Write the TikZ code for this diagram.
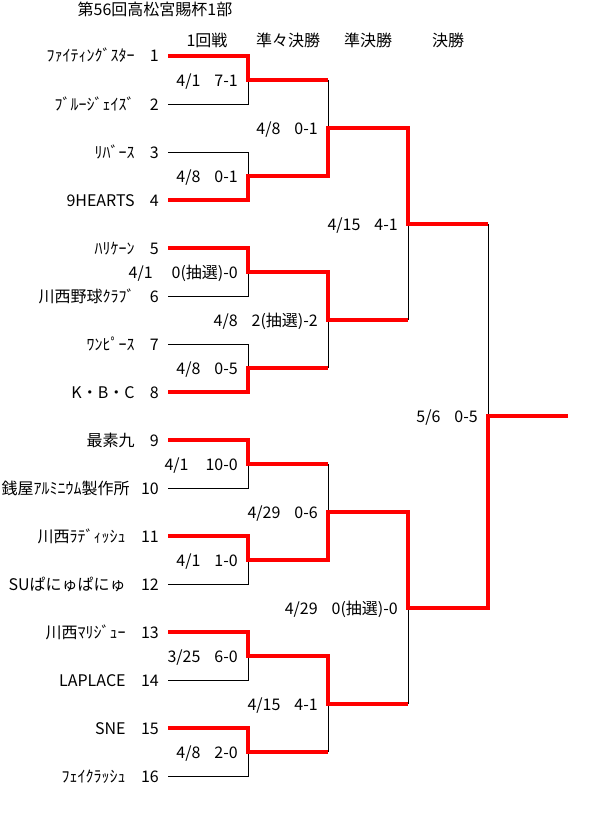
\documentclass[tikz,border=0pt]{standalone}
\usepackage{fontspec}
\setmainfont{Noto Sans CJK JP}
\begin{document}
\begin{tikzpicture}[x=1pt,y=-1pt,
  lbl/.style={inner sep=0pt,text height=12pt,text depth=0pt,font=\fontsize{16pt}{16pt}\selectfont},
  win/.style={draw=red,line width=4pt,line join=miter},
  lose/.style={draw=black,line width=1pt}]
\useasboundingbox[fill=white] (0,0) rectangle (600,816);
% coordinates
\foreach \i in {1,...,16}{
  \pgfmathsetmacro\yy{56+48*(\i-1)}
  \coordinate (s\i) at (168,\yy);
  \coordinate (e\i) at (248,\yy);
}
\foreach \k in {1,...,8}{
  \pgfmathsetmacro\yy{80+96*(\k-1)}
  \coordinate (a\k) at (248,\yy);
  \coordinate (b\k) at (328,\yy);
}
\foreach \q in {1,...,4}{
  \pgfmathsetmacro\yy{128+192*(\q-1)}
  \coordinate (c\q) at (328,\yy);
  \coordinate (d\q) at (408,\yy);
}
\foreach \s in {1,2}{
  \pgfmathsetmacro\yy{224+384*(\s-1)}
  \coordinate (f\s) at (408,\yy);
  \coordinate (g\s) at (488,\yy);
}
\coordinate (h) at (488,416);
\coordinate (fin) at (568,416);
% losers (black)
\draw[lose] (s2)--(e2)--(a1);
\draw[lose] (s3)--(e3)--(a2);
\draw[lose] (s6)--(e6)--(a3);
\draw[lose] (s7)--(e7)--(a4);
\draw[lose] (s10)--(e10)--(a5);
\draw[lose] (s12)--(e12)--(a6);
\draw[lose] (s14)--(e14)--(a7);
\draw[lose] (s16)--(e16)--(a8);
\draw[lose] (b1)--(c1);
\draw[lose] (b4)--(c2);
\draw[lose] (b5)--(c3);
\draw[lose] (b8)--(c4);
\draw[lose] (d2)--(f1);
\draw[lose] (d4)--(f2);
\draw[lose] (g1)--(h);
% winners (red)
\draw[win] (s1)--(e1)--(a1)--(b1);
\draw[win] (s4)--(e4)--(a2)--(b2)--(c1)--(d1)--(f1)--(g1);
\draw[win] (s5)--(e5)--(a3)--(b3)--(c2)--(d2);
\draw[win] (s8)--(e8)--(a4)--(b4);
\draw[win] (s9)--(e9)--(a5)--(b5);
\draw[win] (s11)--(e11)--(a6)--(b6)--(c3)--(d3)--(f2)--(g2)--(h)--(fin);
\draw[win] (s13)--(e13)--(a7)--(b7)--(c4)--(d4);
\draw[win] (s15)--(e15)--(a8)--(b8);
% title and headers
\node[lbl] (title) at (155,10) {第56回高松宮賜杯1部};
\node[lbl] (hd1) at (207,41) {1回戦};
\node[lbl] (hd2) at (288,41) {準々決勝};
\node[lbl] (hd3) at (368,41) {準決勝};
\node[lbl] (hd4) at (448,41) {決勝};
% teams
\foreach \i/\nm/\gap in {1/ﾌｧｲﾃｨﾝｸﾞｽﾀｰ/15,2/ﾌﾞﾙｰｼﾞｪｲｽﾞ/15,3/ﾘﾊﾞｰｽ/15,4/9HEARTS/15,5/ﾊﾘｹｰﾝ/15,6/川西野球ｸﾗﾌﾞ/15,7/ﾜﾝﾋﾟｰｽ/15,8/K・B・C/15,9/最素九/15,10/銭屋ｱﾙﾐﾆｳﾑ製作所/11,11/川西ﾗﾃﾞｨｯｼｭ/15,12/SUぱにゅぱにゅ/15,13/川西ﾏﾘｼﾞｭｰ/15,14/LAPLACE/15,15/SNE/15,16/ﾌｪｲｸﾗｯｼｭ/15}{
  \node[lbl,anchor=east] (num\i) at ([xshift=-9pt]s\i) {\i};
  \node[lbl,anchor=east] (name\i) at ([xshift=-\gap pt]num\i.west) {\nm};
}
% scores round 1
\node[lbl,anchor=east] (sc1) at ([xshift=-10pt]a1) {4/1\hspace{14pt}7-1};
\node[lbl,anchor=east] (sc2) at ([xshift=-10pt]a2) {4/8\hspace{14pt}0-1};
\node[lbl,anchor=east] (sc3) at ([xshift=-10pt]a3) {4/1\hspace{19pt}0(抽選)-0};
\node[lbl,anchor=east] (sc4) at ([xshift=-10pt]a4) {4/8\hspace{14pt}0-5};
\node[lbl,anchor=east] (sc5) at ([xshift=-10pt]a5) {4/1\hspace{17pt}10-0};
\node[lbl,anchor=east] (sc6) at ([xshift=-10pt]a6) {4/1\hspace{14pt}1-0};
\node[lbl,anchor=east] (sc7) at ([xshift=-10pt]a7) {3/25\hspace{14pt}6-0};
\node[lbl,anchor=east] (sc8) at ([xshift=-10pt]a8) {4/8\hspace{14pt}2-0};
% quarterfinals
\node[lbl,anchor=east] (qf1) at ([xshift=-10pt]c1) {4/8\hspace{14pt}0-1};
\node[lbl,anchor=east] (qf2) at ([xshift=-10pt]c2) {4/8\hspace{14pt}2(抽選)-2};
\node[lbl,anchor=east] (qf3) at ([xshift=-10pt]c3) {4/29\hspace{14pt}0-6};
\node[lbl,anchor=east] (qf4) at ([xshift=-10pt]c4) {4/15\hspace{14pt}4-1};
% semifinals
\node[lbl,anchor=east] (sf1) at ([xshift=-10pt]f1) {4/15\hspace{14pt}4-1};
\node[lbl,anchor=east] (sf2) at ([xshift=-10pt]f2) {4/29\hspace{14pt}0(抽選)-0};
% final
\node[lbl,anchor=east] (fn) at ([xshift=-10pt]h) {5/6\hspace{14pt}0-5};
\end{tikzpicture}
\end{document}
